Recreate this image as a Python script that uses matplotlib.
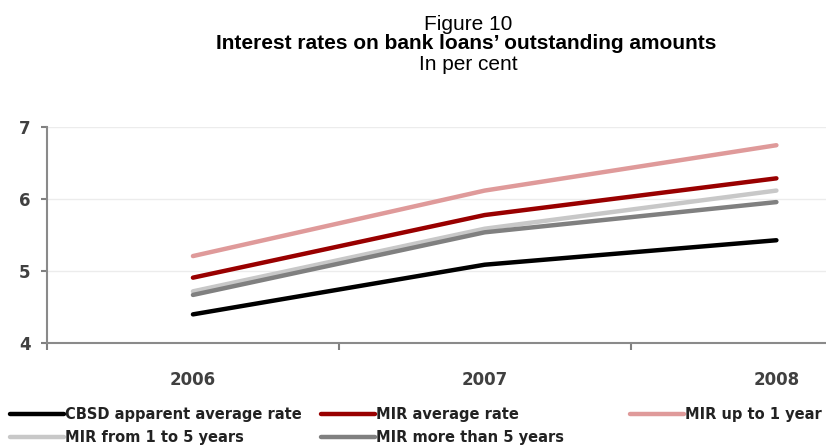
import matplotlib
matplotlib.use("Agg")
import matplotlib.pyplot as plt
from matplotlib import font_manager

years = ["2006", "2007", "2008"]
cbsd = [4.40, 5.09, 5.43]
mir_avg = [4.91, 5.78, 6.29]
mir_1y = [5.21, 6.12, 6.75]
mir_1_5 = [4.72, 5.59, 6.12]
mir_5p = [4.67, 5.54, 5.96]

# narrow bold font like the original, if there is one
cands = sorted({(f.name, f.stretch, f.weight) for f in font_manager.fontManager.ttflist
                if "ondensed" in f.fname or "arrow" in f.fname or f.stretch != "normal"})
print(cands)
narrow = "DejaVu Sans"

fig = plt.figure(figsize=(8.26, 4.48), dpi=100)
ax = fig.add_axes([0.057, 0.234, 0.943, 0.482])

x = range(len(years))
kw = dict(lw=3.2, solid_capstyle="round")
l_1y, = ax.plot(x, mir_1y, color="#df9a9a", label="MIR up to 1 year", **kw)
l_avg, = ax.plot(x, mir_avg, color="#990000", label="MIR average rate", **kw)
l_15, = ax.plot(x, mir_1_5, color="#c8c8c8", label="MIR from 1 to 5 years", **kw)
l_5p, = ax.plot(x, mir_5p, color="#808080", label="MIR more than 5 years", **kw)
l_cb, = ax.plot(x, cbsd, color="black", label="CBSD apparent average rate", **kw)

ax.set_xlim(-0.5, 2.17)
ax.set_ylim(4, 7)
ax.set_yticks([4, 5, 6, 7])
ax.set_xticks([0, 1, 2])
ax.set_xticklabels(years)
ax.set_xticks([-0.5, 0.5, 1.5], minor=True)
ax.tick_params(axis="x", which="major", length=0, pad=20)
ax.tick_params(axis="x", which="minor", length=5, color="#808080", width=1.5, direction="out")
ax.tick_params(axis="y", length=4, color="#808080", width=1.5, pad=8)
for lab in ax.get_xticklabels() + ax.get_yticklabels():
    lab.set_fontfamily(narrow)
    lab.set_fontweight("bold")
    lab.set_fontsize(12)
    lab.set_color("#404040")
ax.grid(axis="y", color="#ececec", lw=1)
ax.set_axisbelow(True)
for s in ["top", "right"]:
    ax.spines[s].set_visible(False)
for s in ["left", "bottom"]:
    ax.spines[s].set_color("#8a8a8a")
    ax.spines[s].set_linewidth(1.5)

fig.text(0.567, 0.946, "Figure 10", ha="center", va="center", fontsize=15, family="Liberation Sans")
fig.text(0.564, 0.902, "Interest rates on bank loans\u2019 outstanding amounts", ha="center", va="center",
         fontsize=15, fontweight="bold", family="Liberation Sans")
fig.text(0.567, 0.857, "In per cent", ha="center", va="center", fontsize=15, family="Liberation Sans")

cols = [([l_cb, l_15], 10), ([l_avg, l_5p], 321), ([l_1y], 630)]
for hs, x0 in cols:
    leg = fig.legend(handles=hs, labels=[h.get_label() for h in hs], loc="upper left",
                     bbox_to_anchor=(x0 / 826, 1 - 407 / 448), frameon=False, handlelength=3.7,
                     handletextpad=0.1, borderaxespad=0, borderpad=0, labelspacing=0.55,
                     prop={"family": narrow, "weight": "bold", "size": 10.5})
    for t in leg.get_texts():
        t.set_color("#222222")

fig.savefig("out.png", dpi=100)
